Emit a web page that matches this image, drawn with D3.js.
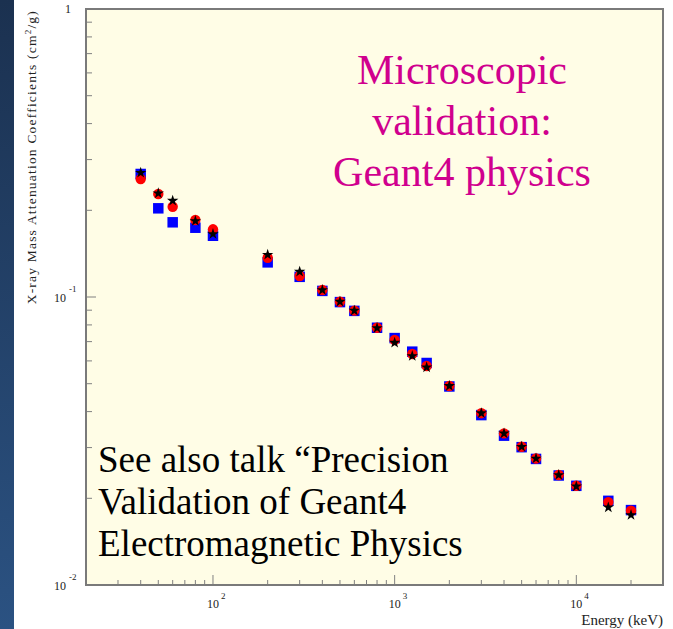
<!DOCTYPE html>
<html><head><meta charset="utf-8">
<script src="https://cdn.jsdelivr.net/npm/d3@7"></script>
<style>body{margin:0;background:#fff;}svg{display:block;} text{font-family:"Liberation Serif","Times New Roman",Times,serif;}</style>
</head><body>
<svg id="c" width="673" height="629"></svg>
<script>
const energies = [40,50,60,80,100,200,300,400,500,600,800,1000,1250,1500,2000,3000,4000,5000,6000,8000,10000,15000,20000];
const blueSeries = [0.2674,0.2032,0.1817,0.1740,0.1632,0.1319,0.1175,0.1050,0.0960,0.0895,0.0782,0.0720,0.0646,0.0590,0.0489,0.0389,0.0330,0.0301,0.0274,0.0240,0.0221,0.0196,0.0182];
const redSeries  = [0.2569,0.2278,0.2058,0.1851,0.1718,0.1369,0.1183,0.1057,0.0963,0.0897,0.0782,0.0709,0.0634,0.0576,0.0491,0.0395,0.0336,0.0302,0.0275,0.0241,0.0221,0.0194,0.0181];
const starSeries = [0.2701,0.2291,0.2160,0.1836,0.1655,0.1402,0.1224,0.1057,0.0963,0.0897,0.0780,0.0694,0.0624,0.0570,0.0491,0.0395,0.0336,0.0302,0.0275,0.0241,0.0220,0.0186,0.0175];
const xTickLabels = [{v:100,e:"2"},{v:1000,e:"3"},{v:10000,e:"4"}];
const yTickLabels = [{v:1,e:null},{v:0.1,e:"-1"},{v:0.01,e:"-2"}];
const titleLines = ["Microscopic","validation:","Geant4 physics"];
const noteLines = ["See also talk \u201cPrecision","Validation of Geant4","Electromagnetic Physics"];

const svg = d3.select("#c");
const L=86, R=663, T=9, B=585;
const x = d3.scaleLog().domain([20,30000]).range([L,R]);
const y = d3.scaleLog().domain([0.01,1]).range([B,T]);

// left blue strip
const defs = svg.append("defs");
const g = defs.append("linearGradient").attr("id","strip").attr("x1",0).attr("y1",0).attr("x2",0).attr("y2",1);
g.append("stop").attr("offset","0%").attr("stop-color","#1b3150");
g.append("stop").attr("offset","100%").attr("stop-color","#2b5282");
svg.append("rect").attr("x",0).attr("y",0).attr("width",14).attr("height",629).attr("fill","url(#strip)");

// plot area
svg.append("rect").attr("x",L).attr("y",T).attr("width",R-L).attr("height",B-T).attr("fill","#fffde6");

// ticks
const xt = [];
for (let d=10; d<=10000; d*=10) for (let k=1;k<=9;k++){ const v=d*k; if (v>20 && v<30000) xt.push(v);}
svg.append("g").selectAll("line").data(xt).join("line")
  .attr("x1",d=>x(d)).attr("x2",d=>x(d))
  .attr("y1",B).attr("y2",d=>{const m=Math.abs(Math.log10(d)-Math.round(Math.log10(d)))<1e-9; return B-(m?10:5);})
  .attr("stroke","#808080").attr("stroke-width",1);
const yt = [];
for (let d=0.01; d<0.5; d*=10) for (let k=1;k<=9;k++){ const v=d*k; if (v>0.0100001 && v<0.99) yt.push(v);}
svg.append("g").selectAll("line").data(yt).join("line")
  .attr("y1",d=>y(d)).attr("y2",d=>y(d))
  .attr("x1",L).attr("x2",d=>{const m=Math.abs(Math.log10(d)-Math.round(Math.log10(d)))<1e-9; return L+(m?10:6);})
  .attr("stroke","#808080").attr("stroke-width",1);

// frame
svg.append("rect").attr("x",L).attr("y",T).attr("width",R-L).attr("height",B-T)
  .attr("fill","none").attr("stroke","#7a7a7a").attr("stroke-width",2);

// points
const sq = d3.symbol().type(d3.symbolSquare).size(110);
const ci = d3.symbol().type(d3.symbolCircle).size(85);
const st = d3.symbol().type(d3.symbolStar).size(40);
svg.append("g").selectAll("path").data(energies.map((e,i)=>[e,blueSeries[i]])).join("path")
  .attr("d",sq).attr("transform",d=>`translate(${x(d[0])},${y(d[1])})`).attr("fill","#0000ff");
svg.append("g").selectAll("path").data(energies.map((e,i)=>[e,redSeries[i]])).join("path")
  .attr("d",ci).attr("transform",d=>`translate(${x(d[0])},${y(d[1])})`).attr("fill","#ff0000");
svg.append("g").selectAll("path").data(energies.map((e,i)=>[e,starSeries[i]])).join("path")
  .attr("d",st).attr("transform",d=>`translate(${x(d[0])},${y(d[1])})`).attr("fill","#000");

// x tick labels
xTickLabels.forEach(t=>{
  const tx = svg.append("text").attr("x",x(t.v)-6).attr("y",608).attr("font-size",12).attr("fill","#222");
  tx.append("tspan").text("10");
  tx.append("tspan").attr("dx",2).attr("dy",-9).attr("font-size",9).text(t.e);
});
// y tick labels
yTickLabels.forEach(t=>{
  const yy = y(t.v);
  if (!t.e) {
    svg.append("text").attr("x",71).attr("y",yy+4).attr("text-anchor","end").attr("font-size",12).attr("fill","#222").text("1");
  } else {
    const tx = svg.append("text").attr("x",54).attr("y",yy+5).attr("font-size",12).attr("fill","#222");
    tx.append("tspan").text("10");
    tx.append("tspan").attr("dx",3).attr("dy",-10).attr("font-size",9).text(t.e);
  }
});
// axis titles
svg.append("text").attr("x",663).attr("y",625).attr("text-anchor","end").attr("font-size",15).attr("fill","#222").text("Energy (keV)");
const yt2 = svg.append("text").attr("transform","translate(36,10) rotate(-90)").attr("text-anchor","end")
  .attr("font-size",13.5).attr("letter-spacing",1.2).attr("fill","#222");
yt2.append("tspan").text("X-ray Mass Attenuation Coefficients (cm");
yt2.append("tspan").attr("dy",-5).attr("font-size",9).text("2");
yt2.append("tspan").attr("dy",5).text("/g)");

// overlay texts
svg.append("g").selectAll("text").data(titleLines).join("text")
  .attr("x",462).attr("y",(d,i)=>84+i*51).attr("text-anchor","middle")
  .attr("font-size",42).attr("fill","#d0008e").text(d=>d);
svg.append("g").selectAll("text").data(noteLines).join("text")
  .attr("x",98).attr("y",(d,i)=>472+i*42)
  .attr("font-size",37).attr("fill","#000").text(d=>d);
</script>
</body></html>
